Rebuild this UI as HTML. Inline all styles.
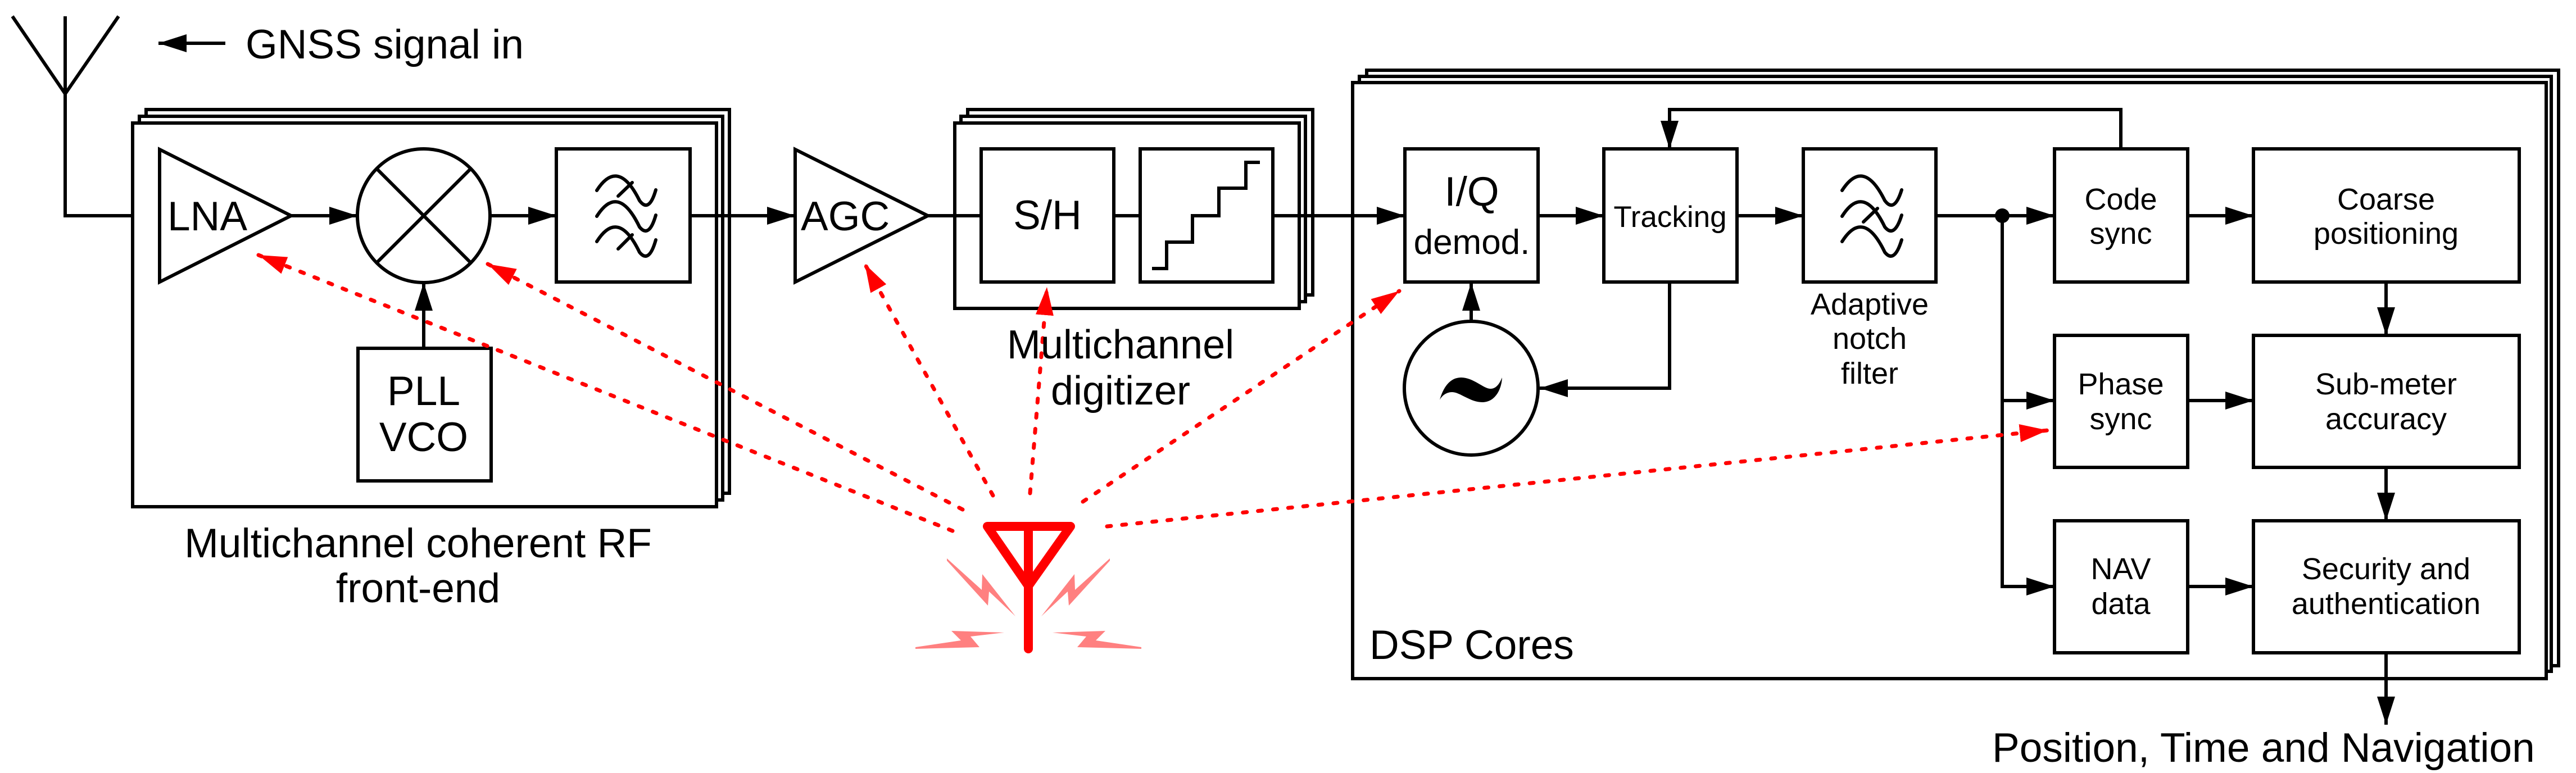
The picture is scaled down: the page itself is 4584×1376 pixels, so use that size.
<!DOCTYPE html>
<html><head><meta charset="utf-8"><style>
html,body{margin:0;padding:0;background:#fff;}
svg{display:block;}
text{font-family:"Liberation Sans",Arial,sans-serif;fill:#000;}
</style></head><body>
<svg width="4584" height="1376" viewBox="0 0 4584 1376" xmlns="http://www.w3.org/2000/svg">
<defs>
<marker id="a" markerUnits="userSpaceOnUse" markerWidth="52" markerHeight="34" refX="50" refY="17" orient="auto"><path d="M0,1 L50,17 L0,33 z" fill="#000"/></marker>
<marker id="r" markerUnits="userSpaceOnUse" markerWidth="52" markerHeight="34" refX="50" refY="17" orient="auto"><path d="M0,1 L50,17 L0,33 z" fill="#f00"/></marker>
</defs>
<g fill="none" stroke="#000" stroke-width="6">
<!-- antenna -->
<path d="M22,29 L116,167 L211,29 M116,29 L116,384 L284,384"/>
<line x1="401" y1="77" x2="282" y2="77" marker-end="url(#a)"/>
<!-- RF frames -->
<rect x="260" y="195" width="1038" height="683" fill="#fff"/>
<rect x="248" y="207" width="1038" height="683" fill="#fff"/>
<rect x="236" y="219" width="1039" height="683" fill="#fff"/>
<path d="M284,266 L284,502 L518,384 Z"/>
<line x1="518" y1="384" x2="636" y2="384" marker-end="url(#a)"/>
<ellipse cx="754" cy="384" rx="118" ry="119"/>
<path d="M670,300 L838,468 M838,300 L670,468"/>
<line x1="872" y1="384" x2="990" y2="384" marker-end="url(#a)"/>
<rect x="990" y="265" width="238" height="237"/>
<g stroke-width="6" stroke-linecap="round">
<path d="M1062,339 Q1100,280 1138,357 Q1155,380 1167,338"/>
<path d="M1062,385 Q1100,325 1138,404 Q1155,425 1167,383"/>
<path d="M1062,430 Q1100,370 1138,449 Q1155,470 1167,427"/>
<path d="M1100,349 L1125,325 M1100,443 L1125,418"/>
</g>
<rect x="637" y="620" width="237" height="236"/>
<line x1="754" y1="620" x2="754" y2="503" marker-end="url(#a)"/>
<line x1="1228" y1="384" x2="1415" y2="384" marker-end="url(#a)"/>
<path d="M1415,266 L1415,502 L1651,384 Z"/>
<line x1="1651" y1="384" x2="1699" y2="384"/>
<!-- digitizer -->
<rect x="1722" y="195" width="614" height="330" fill="#fff"/>
<rect x="1710" y="207" width="613" height="330" fill="#fff"/>
<rect x="1699" y="219" width="613" height="330" fill="#fff"/>
<line x1="1699" y1="384" x2="1746" y2="384"/>
<rect x="1746" y="265" width="236" height="237"/>
<line x1="1982" y1="384" x2="2029" y2="384"/>
<rect x="2029" y="265" width="236" height="237"/>
<path d="M2050,478 L2076,478 L2076,431 L2122,431 L2122,384 L2169,384 L2169,335 L2217,335 L2217,289 L2242,289"/>
<!-- DSP frames -->
<rect x="2432" y="125" width="2121" height="1060" fill="#fff"/>
<rect x="2419" y="136" width="2121" height="1059" fill="#fff"/>
<rect x="2407" y="147" width="2124" height="1061" fill="#fff"/>
<line x1="2265" y1="384" x2="2500" y2="384" marker-end="url(#a)"/>
<rect x="2500" y="265" width="237" height="237"/>
<circle cx="2618" cy="691" r="119"/>
<line x1="2618" y1="572" x2="2618" y2="503" marker-end="url(#a)"/>
<line x1="2737" y1="384" x2="2854" y2="384" marker-end="url(#a)"/>
<rect x="2854" y="265" width="237" height="237"/>
<path d="M2971,502 L2971,691 L2740,691" marker-end="url(#a)"/>
<path d="M3774,265 L3774,195 L2971,195 L2971,265" marker-end="url(#a)"/>
<line x1="3091" y1="384" x2="3209" y2="384" marker-end="url(#a)"/>
<rect x="3209" y="265" width="236" height="237"/>
<g stroke-width="6" stroke-linecap="round">
<path d="M3278,339 Q3316,280 3354,357 Q3371,380 3384,338"/>
<path d="M3278,385 Q3316,325 3354,404 Q3371,425 3384,383"/>
<path d="M3278,430 Q3316,370 3354,449 Q3371,470 3384,427"/>
<path d="M3316,395 L3341,371"/>
</g>
<line x1="3445" y1="384" x2="3656" y2="384" marker-end="url(#a)"/>
<path d="M3563,384 L3563,1044 L3656,1044" marker-end="url(#a)"/>
<line x1="3563" y1="713" x2="3656" y2="713" marker-end="url(#a)"/>
<rect x="3656" y="265" width="237" height="237"/>
<rect x="3656" y="597" width="237" height="235"/>
<rect x="3656" y="927" width="237" height="235"/>
<rect x="4010" y="265" width="473" height="237"/>
<rect x="4010" y="597" width="473" height="235"/>
<rect x="4010" y="927" width="473" height="235"/>
<line x1="3893" y1="384" x2="4010" y2="384" marker-end="url(#a)"/>
<line x1="3893" y1="713" x2="4010" y2="713" marker-end="url(#a)"/>
<line x1="3893" y1="1044" x2="4010" y2="1044" marker-end="url(#a)"/>
<line x1="4246" y1="502" x2="4246" y2="597" marker-end="url(#a)"/>
<line x1="4246" y1="832" x2="4246" y2="927" marker-end="url(#a)"/>
<line x1="4246" y1="1162" x2="4246" y2="1290" marker-end="url(#a)"/>
</g>
<circle cx="3563" cy="384" r="13" fill="#000"/>
<path d="M2562,712 C2568,690 2580,672 2600,672 C2622,672 2640,692 2652,692 C2662,692 2668,684 2673,672 C2672,694 2660,716 2638,716 C2616,716 2598,698 2584,698 C2574,698 2566,704 2562,712 Z" fill="#000"/>
<!-- red -->
<g stroke="#f00" stroke-width="7" stroke-linecap="round" stroke-dasharray="7 20" fill="none">
<line x1="1695" y1="945" x2="460" y2="454" marker-end="url(#r)"/>
<line x1="1713" y1="907" x2="868" y2="470" marker-end="url(#r)"/>
<line x1="1767" y1="882" x2="1539" y2="470" marker-end="url(#r)"/>
<line x1="1833" y1="878" x2="1863" y2="511" marker-end="url(#r)"/>
<line x1="1927" y1="893" x2="2490" y2="518" marker-end="url(#r)"/>
<line x1="1970" y1="937" x2="3644" y2="766" marker-end="url(#r)"/>
</g>
<g stroke="#f00" stroke-width="16" stroke-linecap="round" stroke-linejoin="round" fill="none">
<path d="M1757,937 L1905,937 L1830,1043 Z M1830,937 L1830,1155"/>
</g>
<g fill="#ff8080">
<polygon points="1685,994 1747,1050 1748,1022 1807,1097 1760,1053 1758,1078 1685,998"/>
<polygon points="1975,994 1913,1050 1912,1022 1853,1097 1900,1053 1902,1078 1975,998"/>
<polygon points="1629,1152 1710,1140 1693,1123 1787,1126 1727,1133 1743,1152 1629,1155"/>
<polygon points="2031,1152 1950,1140 1967,1123 1873,1126 1933,1133 1917,1152 2031,1155"/>
</g>
<!-- text -->
<text x="437" y="104" font-size="73">GNSS signal in</text>
<text x="298" y="410" font-size="73">LNA</text>
<text x="754" y="721" font-size="73" text-anchor="middle">PLL</text>
<text x="754" y="803" font-size="73" text-anchor="middle">VCO</text>
<text x="1425" y="410" font-size="73">AGC</text>
<text x="744" y="992" font-size="73" text-anchor="middle">Multichannel coherent RF</text>
<text x="744" y="1072" font-size="73" text-anchor="middle">front-end</text>
<text x="1864" y="408" font-size="73" text-anchor="middle">S/H</text>
<text x="1994" y="638" font-size="72" text-anchor="middle">Multichannel</text>
<text x="1994" y="720" font-size="72" text-anchor="middle">digitizer</text>
<text x="2619" y="366" font-size="73" text-anchor="middle">I/Q</text>
<text x="2619" y="452" font-size="62" text-anchor="middle">demod.</text>
<text x="2972" y="404" font-size="53" text-anchor="middle">Tracking</text>
<text x="3327" y="560" font-size="54" text-anchor="middle">Adaptive</text>
<text x="3327" y="621" font-size="54" text-anchor="middle">notch</text>
<text x="3327" y="683" font-size="54" text-anchor="middle">filter</text>
<g font-size="54" text-anchor="middle">
<text x="3774" y="373">Code</text><text x="3774" y="434">sync</text>
<text x="3774" y="702">Phase</text><text x="3774" y="764">sync</text>
<text x="3774" y="1031">NAV</text><text x="3774" y="1093">data</text>
<text x="4246" y="373">Coarse</text><text x="4246" y="434">positioning</text>
<text x="4246" y="702">Sub-meter</text><text x="4246" y="764">accuracy</text>
<text x="4246" y="1031">Security and</text><text x="4246" y="1093">authentication</text>
</g>
<text x="2437" y="1173" font-size="73">DSP Cores</text>
<text x="3545" y="1356" font-size="73">Position, Time and Navigation</text>
</svg>
</body></html>
